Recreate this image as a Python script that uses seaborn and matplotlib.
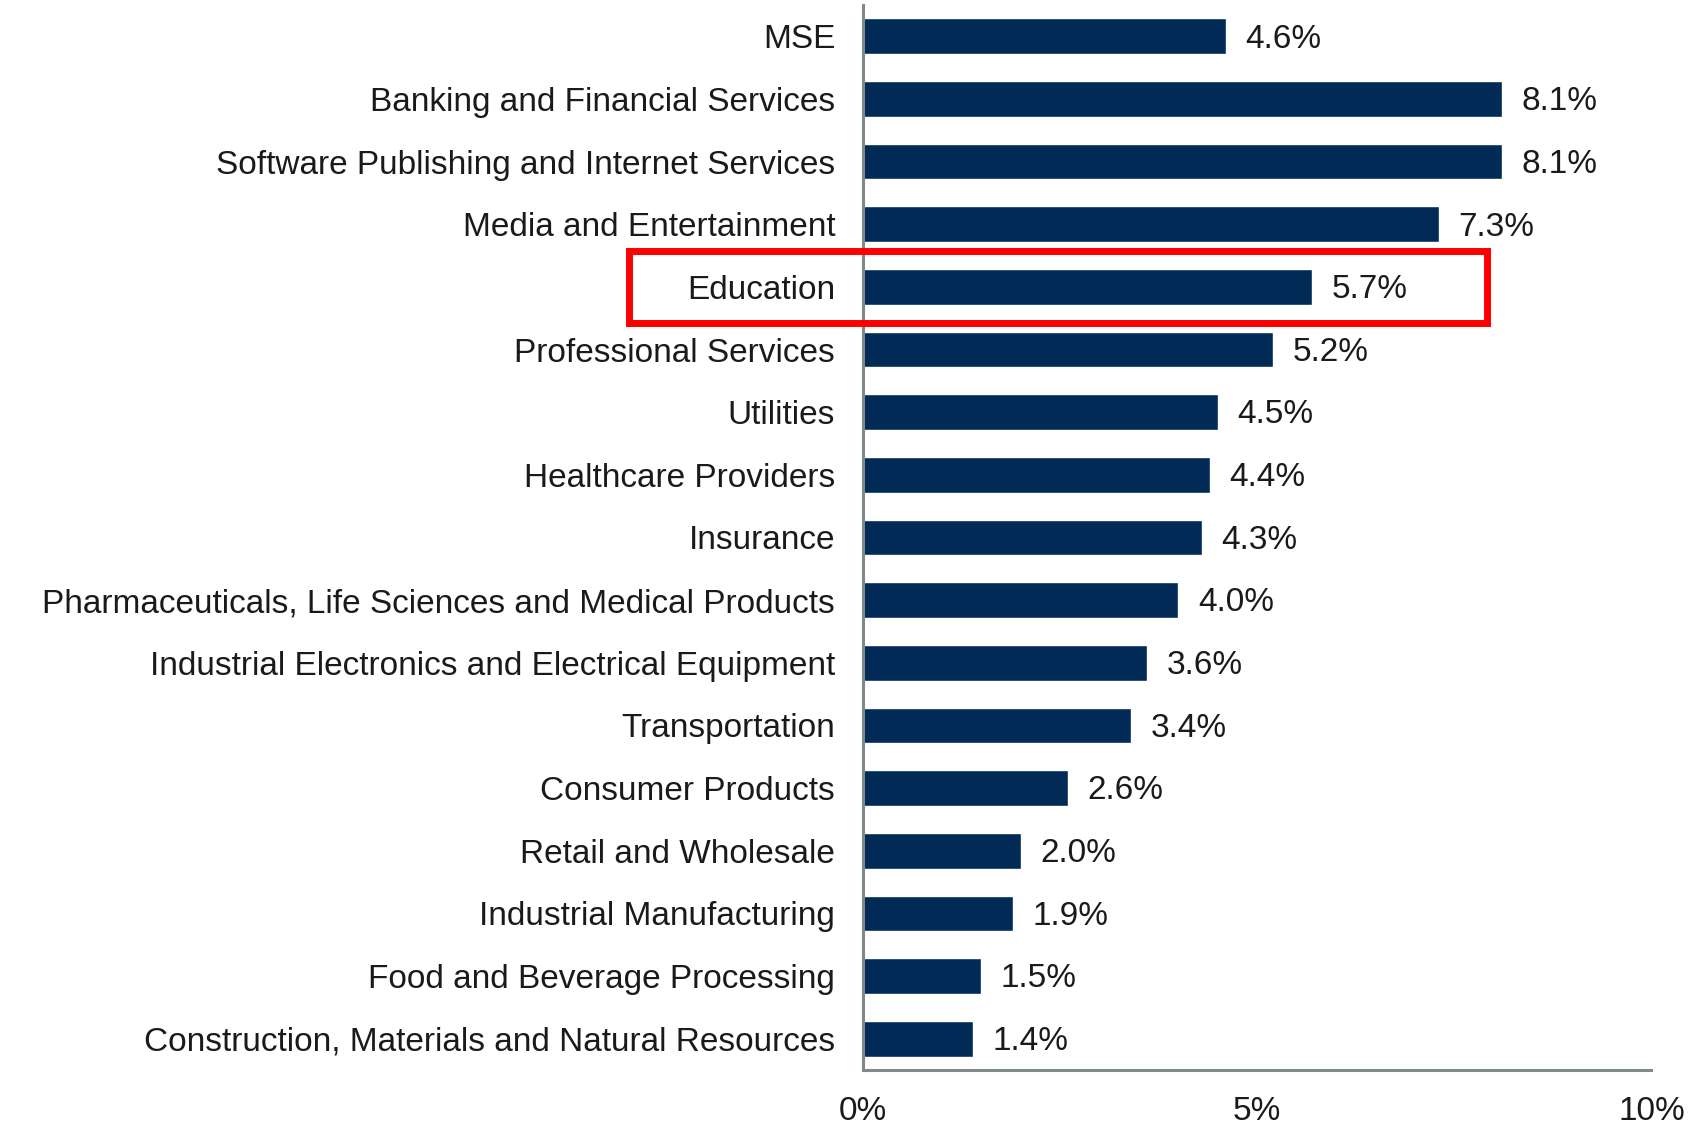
import matplotlib
matplotlib.use("Agg")
import matplotlib.pyplot as plt
import seaborn as sns
import pandas as pd
from matplotlib.patches import Rectangle

categories = [
    "MSE",
    "Banking and Financial Services",
    "Software Publishing and Internet Services",
    "Media and Entertainment",
    "Education",
    "Professional Services",
    "Utilities",
    "Healthcare Providers",
    "Insurance",
    "Pharmaceuticals, Life Sciences and Medical Products",
    "Industrial Electronics and Electrical Equipment",
    "Transportation",
    "Consumer Products",
    "Retail and Wholesale",
    "Industrial Manufacturing",
    "Food and Beverage Processing",
    "Construction, Materials and Natural Resources",
]
values = [4.6, 8.1, 8.1, 7.3, 5.7, 5.2, 4.5, 4.4, 4.3, 4.0, 3.6, 3.4, 2.6, 2.0, 1.9, 1.5, 1.4]
x_ticks = [0, 5, 10]
x_tick_labels = ["0%", "5%", "10%"]
highlight = "Education"

df = pd.DataFrame({"category": categories, "value": values})

sns.set_style("white")
plt.rcParams["font.family"] = ["Liberation Sans", "DejaVu Sans"]

fig = plt.figure(figsize=(16.92, 11.28), dpi=100)
ax = fig.add_axes([0.510, 0.0514, 0.466, 0.9442])

sns.barplot(data=df, x="value", y="category", color="#022a56", width=0.57,
            saturation=1, ax=ax)

# value labels
for i, v in enumerate(values):
    ax.annotate(f"{v:.1f}%", (v, i), xytext=(14, -2), textcoords="offset points",
                va="center", ha="left", fontsize=24, color="#1a1a1a")

ax.set_xlim(0, 10)
ax.set_ylim(len(categories) - 0.5, -0.5)
ax.set_xticks(x_ticks)
ax.set_xticklabels(x_tick_labels)
ax.set_xlabel("")
ax.set_ylabel("")
ax.tick_params(axis="y", length=0, pad=20, labelsize=24, labelcolor="#1a1a1a")
ax.tick_params(axis="x", length=0, pad=19, labelsize=24, labelcolor="#1a1a1a")

for s in ["top", "right"]:
    ax.spines[s].set_visible(False)
for s in ["left", "bottom"]:
    ax.spines[s].set_color("#7f8a8a")
    ax.spines[s].set_linewidth(2.2)

# red highlight box around Education row
idx = categories.index(highlight)
rect = Rectangle((-2.97, idx - 0.57), 10.89, 1.14, fill=False, edgecolor="#ff0000",
                 linewidth=5, clip_on=False, zorder=5)
ax.add_patch(rect)

fig.savefig("out.png", dpi=100, facecolor="white")
